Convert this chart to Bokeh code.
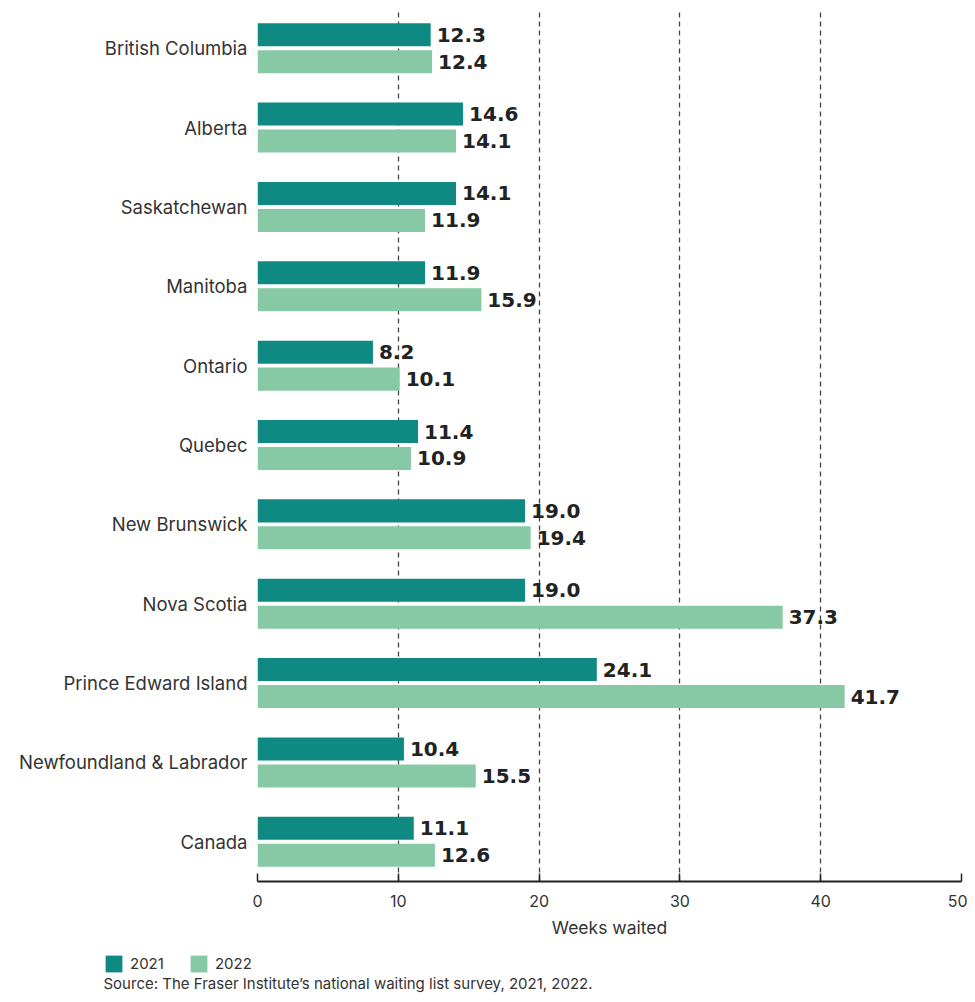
from bokeh.plotting import figure
from bokeh.models import (ColumnDataSource, FactorRange, Range1d, Legend, LegendItem,
                          Label, FixedTicker)
from bokeh.layouts import column
from bokeh.transform import dodge
from bokeh.core.properties import value
from bokeh.embed import file_html
from bokeh.resources import INLINE

provinces = ["British Columbia", "Alberta", "Saskatchewan", "Manitoba", "Ontario",
             "Quebec", "New Brunswick", "Nova Scotia", "Prince Edward Island",
             "Newfoundland & Labrador", "Canada"]
weeks_2021 = [12.3, 14.6, 14.1, 11.9, 8.2, 11.4, 19.0, 19.0, 24.1, 10.4, 11.1]
weeks_2022 = [12.4, 14.1, 11.9, 15.9, 10.1, 10.9, 19.4, 37.3, 41.7, 15.5, 12.6]
x_ticks = [0, 10, 20, 30, 40, 50]
series_names = ["2021", "2022"]
source_note = "Source: The Fraser Institute\u2019s national waiting list survey, 2021, 2022."
x_title = "Weeks waited"

C21 = "#0e8a82"
C22 = "#86c9a4"
TXT = "#333333"

src = ColumnDataSource(dict(
    cat=provinces,
    v21=weeks_2021,
    v22=weeks_2022,
    l21=[f"{v:.1f}" for v in weeks_2021],
    l22=[f"{v:.1f}" for v in weeks_2022],
))

W = 967
p = figure(width=W, height=942, output_backend="svg", toolbar_location=None,
           y_range=FactorRange(factors=list(reversed(provinces))),
           x_range=Range1d(0, 50),
           min_border_left=257, min_border_right=6, min_border_top=8,
           min_border_bottom=61)
p.outline_line_color = None
p.background_fill_color = "white"
p.border_fill_color = "white"
p.frame_align = False

off = 0.17
bh = 0.29
r21 = p.hbar(y=dodge("cat", off, range=p.y_range), right="v21", left=0, height=bh,
             source=src, fill_color=C21, line_color=None)
r22 = p.hbar(y=dodge("cat", -off, range=p.y_range), right="v22", left=0, height=bh,
             source=src, fill_color=C22, line_color=None)

p.text(x="v21", y=dodge("cat", off, range=p.y_range), text="l21", source=src,
       x_offset=6, text_baseline="middle", text_align="left",
       text_font=value("DejaVu Sans"), text_font_style="bold",
       text_font_size="20px", text_color="#222222")
p.text(x="v22", y=dodge("cat", -off, range=p.y_range), text="l22", source=src,
       x_offset=6, text_baseline="middle", text_align="left",
       text_font=value("DejaVu Sans"), text_font_style="bold",
       text_font_size="20px", text_color="#222222")

# grid
p.ygrid.grid_line_color = None
p.xgrid.ticker = FixedTicker(ticks=x_ticks)
p.xgrid.grid_line_color = "#444444"
p.xgrid.grid_line_dash = "5 4"
p.xgrid.grid_line_width = 1.3

# x axis
p.xaxis.ticker = FixedTicker(ticks=x_ticks)
p.xaxis.axis_line_color = "#222222"
p.xaxis.axis_line_width = 2
p.xaxis.major_tick_in = 8
p.xaxis.major_tick_out = 0
p.xaxis.major_tick_line_color = "#222222"
p.xaxis.major_tick_line_width = 1.5
p.xaxis.minor_tick_line_color = None
p.xaxis.major_label_text_font = "Inter"
p.xaxis.major_label_text_font_size = "16px"
p.xaxis.major_label_text_color = TXT
p.xaxis.major_label_standoff = 13
p.xaxis.axis_label = x_title
p.xaxis.axis_label_text_font = "Inter"
p.xaxis.axis_label_text_font_size = "17.5px"
p.xaxis.axis_label_text_font_style = "normal"
p.xaxis.axis_label_text_color = TXT
p.xaxis.axis_label_standoff = 7

# y axis
p.yaxis.axis_line_color = None
p.yaxis.major_tick_line_color = None
p.yaxis.minor_tick_line_color = None
p.yaxis.major_label_text_font = "Inter"
p.yaxis.major_label_text_font_size = "18.5px"
p.yaxis.major_label_text_color = TXT
p.yaxis.major_label_standoff = 4

# footer: legend + source note
H2 = 52
p2 = figure(width=W, height=H2, output_backend="svg", toolbar_location=None,
            x_axis_type=None, y_axis_type=None,
            x_range=Range1d(0, 1), y_range=Range1d(0, 1),
            min_border_left=0, min_border_right=0, min_border_top=0,
            min_border_bottom=0)
p2.outline_line_color = None
p2.background_fill_color = "white"
p2.border_fill_color = "white"
p2.frame_align = False
# legend keys only (hidden renderers sharing the chart's data)
k21 = p2.hbar(y=dodge("cat", 0, range=p.y_range), right="v21", left=0, height=bh,
              source=src, fill_color=C21, line_color=None, visible=False)
k22 = p2.hbar(y=dodge("cat", 0, range=p.y_range), right="v22", left=0, height=bh,
              source=src, fill_color=C22, line_color=None, visible=False)

legend = Legend(items=[LegendItem(label=series_names[0], renderers=[k21]),
                       LegendItem(label=series_names[1], renderers=[k22])],
                orientation="horizontal", location=(103, 20),
                glyph_width=21, glyph_height=21, label_standoff=6, spacing=24,
                padding=0, margin=0, border_line_color=None,
                background_fill_alpha=0,
                label_text_font="Inter", label_text_font_size="15px",
                label_text_color=TXT, label_height=21)
p2.add_layout(legend, "center")

note = Label(x=103, y=11, x_units="screen", y_units="screen", text=source_note,
             text_font="Inter", text_font_size="15px", text_color=TXT,
             text_baseline="middle", text_align="left")
p2.add_layout(note)

open("out.html", "w").write(file_html(column(p, p2, spacing=0), INLINE))
